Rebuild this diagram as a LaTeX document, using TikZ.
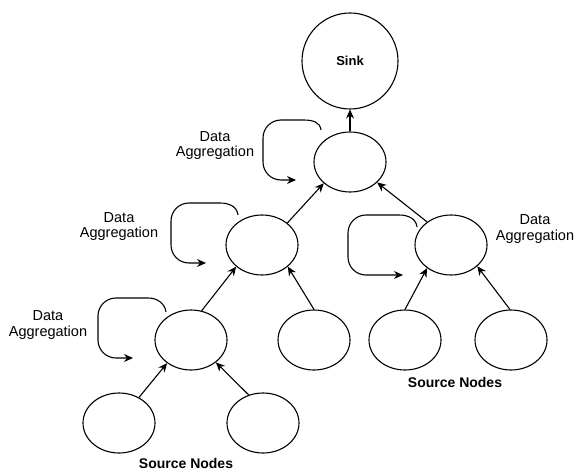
\documentclass[tikz,border=0pt]{standalone}
\usepackage{fontspec}
\setmainfont{Liberation Sans}
\usetikzlibrary{shapes.geometric,arrows.meta}
\begin{document}
\begin{tikzpicture}[x=1pt,y=-1pt,
 ell/.style={draw, ellipse, line width=1.1pt, minimum width=72pt, minimum height=60pt, inner sep=0pt},
 sinkc/.style={draw, circle, line width=1.1pt, minimum size=96pt, inner sep=0pt, font=\fontsize{13}{15}\selectfont\bfseries},
 arr/.style={line width=1.1pt, -{Stealth[length=9pt,width=8pt]}},
 loopc/.style={arr},
 lbl/.style={anchor=base, inner sep=0pt, font=\fontsize{14.5}{16}\selectfont},
 src/.style={anchor=base, inner sep=0pt, font=\fontsize{14}{16}\selectfont\bfseries}]
\useasboundingbox (0,0) rectangle (577,470);
% nodes
\node[sinkc] (sink) at (350,61) {Sink};
\node[ell] (n1) at (350,162) {};
\node[ell] (n2) at (262,245) {};
\node[ell] (n3) at (191,340) {};
\node[ell] (n4) at (451,245) {};
\node[ell] (m)  at (314,340) {};
\node[ell] (l1) at (119,423) {};
\node[ell] (l2) at (263,423) {};
\node[ell] (r1) at (405,340) {};
\node[ell] (r2) at (511,340) {};
% edges
\draw[arr] (n1) -- (sink);
\draw[arr] (n2.41) -- (n1.219);
\draw[arr] (n4.136) -- (n1.323);
\draw[arr] (n3.70) -- (n2.220);
\draw[arr] (m.90) -- (n2.320);
\draw[arr] (l1.52) -- (n3.224);
\draw[arr] (l2.117) -- (n3.318);
\draw[arr] (r1.90) -- (n4.224);
\draw[arr] (r2.92) -- (n4.321);
% aggregation loops
\coordinate (s1) at (321,130); \coordinate (e1) at (296,180);
\draw[loopc] (s1) .. controls (320,122) and (313,120) .. (303,120) -- (281,120)
  .. controls (271,120) and (263,128) .. (263,138) -- (263,162)
  .. controls (263,172) and (271,180) .. (281,180) -- (e1);
\coordinate (s2) at (238,215); \coordinate (e2) at (206,263);
\draw[loopc] (s2) .. controls (237,207) and (230,203) .. (220,203) -- (189,203)
  .. controls (179,203) and (171,211) .. (171,221) -- (171,245)
  .. controls (171,255) and (179,263) .. (189,263) -- (e2);
\coordinate (s3) at (166,312); \coordinate (e3) at (133,358);
\draw[loopc] (s3) .. controls (165,304) and (158,298) .. (148,298) -- (116,298)
  .. controls (106,298) and (98,306) .. (98,316) -- (98,340)
  .. controls (98,350) and (106,358) .. (116,358) -- (e3);
\coordinate (s4) at (417,227); \coordinate (e4) at (403,275);
\draw[loopc] (s4) .. controls (416,219) and (409,215) .. (399,215) -- (366,215)
  .. controls (356,215) and (348,223) .. (348,233) -- (348,257)
  .. controls (348,267) and (356,275) .. (366,275) -- (e4);
% labels
\node[lbl] (t1a) at (215,142) {Data};
\node[lbl] (t1b) at (215,157) {Aggregation};
\node[lbl] (t2a) at (119,222) {Data};
\node[lbl] (t2b) at (119,237) {Aggregation};
\node[lbl] (t3a) at (48,320) {Data};
\node[lbl] (t3b) at (48,336) {Aggregation};
\node[lbl] (t4a) at (535,224) {Data};
\node[lbl] (t4b) at (535,240) {Aggregation};
\node[src] (srcl) at (186,468) {Source Nodes};
\node[src] (srcr) at (455,387) {Source Nodes};
\end{tikzpicture}
\end{document}
